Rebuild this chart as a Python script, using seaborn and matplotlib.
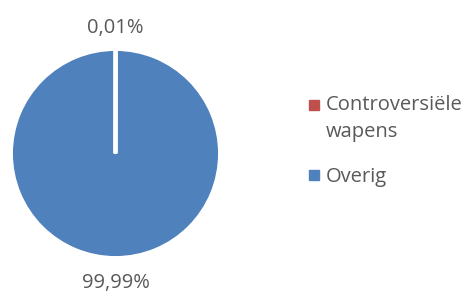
import numpy as np
import matplotlib
matplotlib.use("Agg")
import matplotlib.pyplot as plt
import seaborn as sns
from matplotlib.lines import Line2D
from matplotlib.legend_handler import HandlerBase

categories = ["Controversiële\nwapens", "Overig"]
values = [0.01, 99.99]
value_labels = ["0,01%", "99,99%"]
colors = ["#C0504D", "#4F81BD"]

sns.set_theme(style="white")
plt.rcParams["font.family"] = ["Open Sans", "DejaVu Sans"]
text_color = "#595959"
FS = 14.5
LINESP = 1.45


class TopMarker(HandlerBase):
    """Square marker aligned with the first line of a (multi-line) label."""
    def __init__(self, nlines, **kw):
        super().__init__(**kw)
        self.nlines = nlines

    def create_artists(self, legend, orig_handle, xdescent, ydescent, width,
                       height, fontsize, trans):
        shift = (self.nlines - 1) * fontsize * LINESP * 0.5 * 0.93
        m = Line2D([width / 2 - xdescent], [height / 2 - ydescent + shift],
                   marker="s", linestyle="", markersize=6.5,
                   markerfacecolor=orig_handle.get_markerfacecolor(),
                   markeredgecolor=orig_handle.get_markeredgecolor(),
                   transform=trans)
        return [m]


fig = plt.figure(figsize=(4.70, 2.94), dpi=100)
W, H = 470, 294
cx, cy, r = 115.5, 153.5, 104.5
lim = 1.1
size = 2 * lim * r
ax = fig.add_axes([(cx - lim * r) / W, (H - cy - lim * r) / H, size / W, size / H])

wedges, _ = ax.pie(values, colors=colors, startangle=90, counterclock=False,
                   wedgeprops=dict(edgecolor="white", linewidth=2.8))
ax.set_xlim(-lim, lim)
ax.set_ylim(-lim, lim)
ax.set_aspect("equal")
ax.axis("off")

dists = [1.20, 1.24]
for w, lab, d in zip(wedges, value_labels, dists):
    ang = np.deg2rad((w.theta1 + w.theta2) / 2)
    ax.text(d * np.cos(ang), d * np.sin(ang), lab, ha="center", va="center",
            fontsize=FS, color=text_color, clip_on=False)

handles = [Line2D([], [], marker="s", linestyle="", markersize=6.5,
                  markerfacecolor=c, markeredgecolor=c) for c in colors]
handler_map = {h: TopMarker(lab.count("\n") + 1) for h, lab in zip(handles, categories)}
leg = fig.legend(handles, categories, loc="center left", bbox_to_anchor=(0.657, 0.52),
                 frameon=False, fontsize=FS, labelcolor=text_color,
                 handlelength=0.5, handletextpad=0.32, labelspacing=1.25,
                 borderaxespad=0, borderpad=0, handler_map=handler_map)
for t in leg.get_texts():
    t.set_linespacing(LINESP)

fig.savefig("out.png", dpi=100)
